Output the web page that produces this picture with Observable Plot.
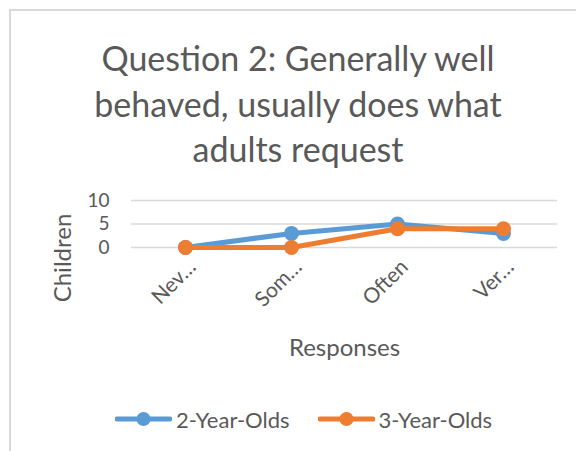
<!DOCTYPE html>
<html><head><meta charset="utf-8">
<script src="https://cdn.jsdelivr.net/npm/d3@7"></script>
<script src="https://cdn.jsdelivr.net/npm/@observablehq/plot@0.6"></script>
<style>
body{margin:0;background:#fff;font-family:Lato,sans-serif;color:#595959;width:576px;height:451px;overflow:hidden;position:relative}
#frame{position:absolute;left:9px;top:9px;width:600px;height:500px;border-left:2px solid #d9d9d9;border-top:2px solid #d9d9d9}
#title{position:absolute;left:10px;top:35px;width:576px;text-align:center;font-size:34px;line-height:45.5px;white-space:nowrap}
#chart{position:absolute;left:0;top:180px}
#ylabel{position:absolute;left:62px;top:258px;transform:translate(-50%,-50%) rotate(-90deg);font-size:24px;white-space:nowrap;line-height:1}
#legend{position:absolute;left:115px;top:404px;height:30px;display:flex;align-items:center;font-size:22px;white-space:nowrap}
#legend .item{display:flex;align-items:center}
#legend .item + .item{margin-left:28px}
#legend svg{margin-right:4px}
#chart g[aria-label="x-axis label"]{font-size:24px}
#chart g[aria-label="x-axis tick label"]{font-size:21px}
</style></head>
<body>
<div id="frame"></div>
<div id="title">Question 2: Generally well<br>behaved, usually does what<br>adults request</div>
<div id="chart"></div>
<div id="ylabel">Children</div>
<div id="legend"></div>
<script>
const categories = ["Never", "Sometimes", "Often", "Very Often"];
const tickLabels = ["Nev…", "Som…", "Often", "Ver…"];
const series = ["2-Year-Olds", "3-Year-Olds"];
const twoYearOlds = [0, 3, 5, 3];
const threeYearOlds = [0, 0, 4, 4];
const yTicks = [0, 5, 10];
const colors = ["#5B9BD5", "#ED7D31"];

const valuesBySeries = [twoYearOlds, threeYearOlds];
const data = series.flatMap((s, i) => categories.map((c, j) => ({series: s, category: c, value: valuesBySeries[i][j]})));

const chart = Plot.plot({
  width: 576, height: 190,
  marginTop: 20, marginBottom: 123, marginLeft: 131, marginRight: 19,
  style: {fontFamily: "Lato, sans-serif", fontSize: "19px", color: "#595959", background: "transparent", overflow: "visible"},
  x: {type: "point", domain: categories, padding: 0.5},
  y: {domain: [0, 10]},
  color: {domain: series, range: colors},
  marks: [
    Plot.gridY({ticks: yTicks, stroke: "#d9d9d9", strokeOpacity: 1, strokeWidth: 1.5}),
    Plot.axisY({ticks: yTicks, tickSize: 0, tickPadding: 22, label: null}),
    Plot.axisX({tickSize: 0, tickPadding: 16, tickRotate: -45, dx: 7, tickFormat: d => tickLabels[categories.indexOf(d)], label: "Responses", labelAnchor: "center", labelOffset: 108, labelArrow: "none"}),
    ...series.flatMap(s => [
      Plot.line(data.filter(d => d.series === s), {x: "category", y: "value", stroke: "series", strokeWidth: 5}),
      Plot.dot(data.filter(d => d.series === s), {x: "category", y: "value", fill: "series", r: 7.5})
    ])
  ]
});
document.getElementById("chart").append(chart);

const legend = document.getElementById("legend");
series.forEach((s, i) => {
  const item = document.createElement("div");
  item.className = "item";
  item.innerHTML = `<svg width="57" height="16"><line x1="2" x2="55" y1="8" y2="8" stroke="${colors[i]}" stroke-width="5" stroke-linecap="round"/><circle cx="28.5" cy="8" r="7" fill="${colors[i]}"/></svg><span>${s}</span>`;
  legend.append(item);
});
</script>
</body></html>
